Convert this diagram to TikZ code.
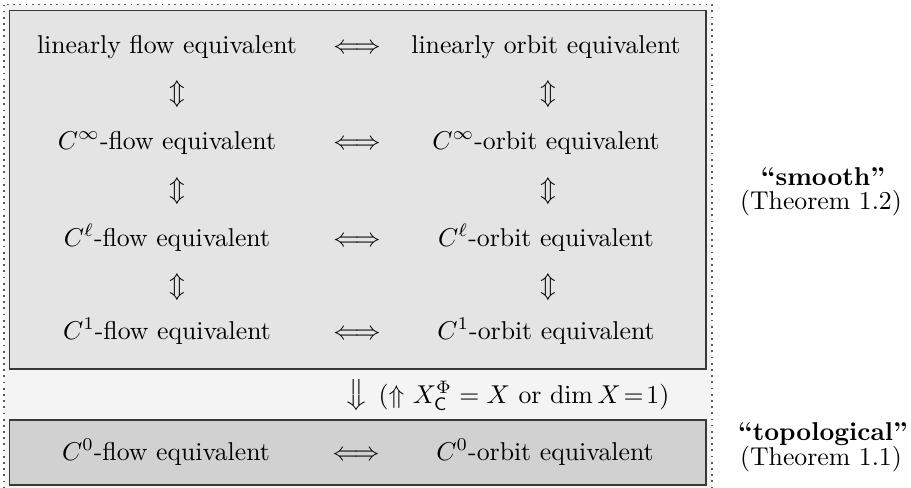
\documentclass[tikz,border=0pt]{standalone}
\usepackage{amsmath}
\definecolor{outerfill}{HTML}{F4F4F4}
\definecolor{topfill}{HTML}{E4E4E4}
\definecolor{botfill}{HTML}{D0D1D0}
\definecolor{edgecol}{HTML}{383838}
\definecolor{dotcol}{HTML}{5A5A5A}
\tikzset{
  outerbox/.style={draw=dotcol,fill=outerfill,line width=0.7pt,dash pattern=on 0.7pt off 1.7pt},
  innerbox/.style={draw=edgecol,line width=0.6pt},
  lbl/.style={anchor=base,inner sep=0pt,outer sep=0pt},
  sym/.style={anchor=center,inner sep=0pt,outer sep=0pt},
}
\begin{document}
\begin{tikzpicture}[x=0.3882pt,y=-0.3882pt]
\useasboundingbox (0,0) rectangle (911,487);
\draw[outerbox] (4,4.5) rectangle (712,489);
\draw[innerbox,fill=topfill] (9.5,10.5) rectangle (706,369);
\draw[innerbox,fill=botfill] (9.5,420) rectangle (706,485);
% row 1
\node[lbl] (lf) at (167,53.5) {linearly flow equivalent};
\node[lbl] (le1) at (357,53.5) {$\Longleftrightarrow$};
\node[lbl] (lo) at (546,53.5) {linearly orbit equivalent};
\node[sym] (v1l) at (177,94) {$\Updownarrow$};
\node[sym] (v1r) at (548,94) {$\Updownarrow$};
% row 2
\node[lbl] (sf) at (167,149) {$C^\infty$-flow equivalent};
\node[lbl] (le2) at (357,149) {$\Longleftrightarrow$};
\node[lbl] (so) at (546,149) {$C^\infty$-orbit equivalent};
\node[sym] (v2l) at (177,191) {$\Updownarrow$};
\node[sym] (v2r) at (548,191) {$\Updownarrow$};
% row 3
\node[lbl] (lfl) at (167,246) {$C^\ell$-flow equivalent};
\node[lbl] (le3) at (357,246) {$\Longleftrightarrow$};
\node[lbl] (lol) at (546,246) {$C^\ell$-orbit equivalent};
\node[sym] (v3l) at (177,287) {$\Updownarrow$};
\node[sym] (v3r) at (548,287) {$\Updownarrow$};
% row 4
\node[lbl] (of) at (167,339) {$C^1$-flow equivalent};
\node[lbl] (le4) at (357,339) {$\Longleftrightarrow$};
\node[lbl] (oo) at (546,339) {$C^1$-orbit equivalent};
% implication
\node[sym] (down) at (357,395) {$\big\Downarrow$};
\node[anchor=base west,inner sep=0pt] (cond) at (378,403) {($\Uparrow$ $X^{\Phi}_{\mathsf{C}}=X$ or $\dim X\!=\!1$)};
% bottom row
\node[lbl] (zf) at (166,460) {$C^0$-flow equivalent};
\node[lbl] (le5) at (356,460) {$\Longleftrightarrow$};
\node[lbl] (zo) at (545,460) {$C^0$-orbit equivalent};
% side labels
\node[lbl] (smooth) at (823,185) {\textbf{``smooth''}};
\node[lbl] (thm2) at (821,209) {(Theorem 1.2)};
\node[lbl] (topo) at (823,440) {\textbf{``topological''}};
\node[lbl] (thm1) at (821,465) {(Theorem 1.1)};
\end{tikzpicture}
\end{document}
